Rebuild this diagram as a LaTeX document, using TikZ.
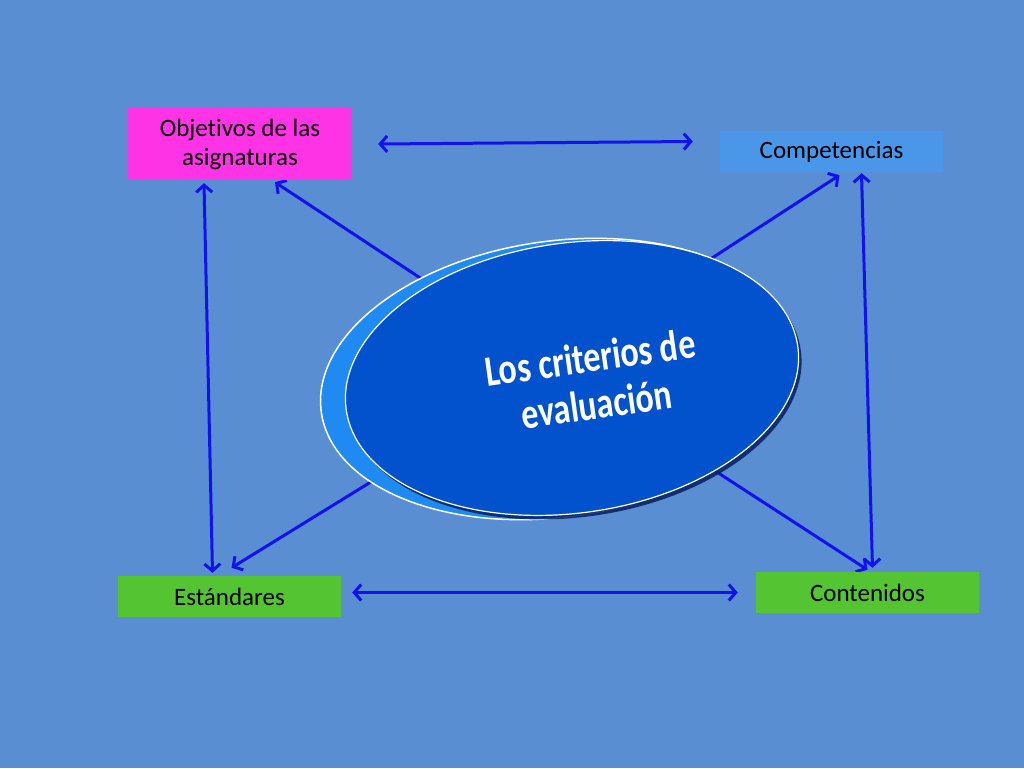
\documentclass[tikz,border=0pt]{standalone}
\usepackage{fontspec}
\setmainfont{Carlito}[Ligatures=NoCommon]
\usetikzlibrary{arrows.meta,shapes.geometric,backgrounds,shadows}
\definecolor{slideblue}{RGB}{89,142,211}
\definecolor{linkblue}{RGB}{18,18,236}
\definecolor{objmagenta}{RGB}{255,51,230}
\definecolor{compblue}{RGB}{74,150,232}
\definecolor{stdgreen}{RGB}{84,196,50}
\definecolor{critdark}{RGB}{2,82,206}
\definecolor{critlight}{RGB}{30,138,242}
\definecolor{critshadow}{RGB}{10,36,100}

\begin{document}
\begin{tikzpicture}[x=1pt,y=-1pt,
    box/.style={shape=rectangle,inner sep=0pt,minimum width=223pt,minimum height=41pt,
      font=\fontsize{25}{29}\selectfont,text=black,align=center},
    link/.style={draw=linkblue,line width=3pt},
    >={Straight Barb[length=7pt,width=16pt]}]
  \useasboundingbox (0,0) rectangle (1024,768);
  \begin{scope}[on background layer]
    \fill[slideblue] (0,0) rectangle (1024,768);
  \end{scope}
  \node[box,fill=objmagenta,minimum width=224pt,minimum height=72pt] (obj) at (240,144) {Objetivos de las\\asignaturas};
  \node[box,fill=compblue] (comp) at (831.5,151.5) {Competencias};
  \node[box,fill=stdgreen] (est) at (229.5,596.5) {Estándares};
  \node[box,fill=stdgreen] (cont) at (867.5,592.5) {Contenidos};
  \node[shape=ellipse,inner sep=0pt,fill=critlight,draw=white,line width=1.5pt,
    minimum width=478pt,minimum height=276pt,rotate=8] (critback) at (558,379) {};
  \node[shape=ellipse,inner sep=0pt,fill=critdark,draw=white,line width=1.2pt,
    minimum width=456pt,minimum height=270pt,rotate=8,
    drop shadow={shadow xshift=3pt,shadow yshift=-4pt,fill=critshadow,opacity=0.9}] (crit) at (572,378) {};
  \node[rotate=8,text=white,font=\bfseries\fontsize{34}{37}\selectfont] (critlabel) at (594,386)
    {\scalebox{1}[1.27]{\begin{tabular}{@{}c@{}}Los criterios de\\evaluación\end{tabular}}};
  \begin{scope}[on background layer]
    \draw[link,<->] ([xshift=26pt]obj.east) -- ([xshift=-27pt,yshift=10pt]comp.west);
    \draw[link,<->] ([xshift=11pt,yshift=4pt]est.east) -- ([xshift=-18pt]cont.west);
    \draw[link,<->] ([xshift=-36pt,yshift=-3pt]obj.south) -- ([xshift=-17pt,yshift=3pt]est.north);
    \draw[link,<->] ([xshift=30pt,yshift=-1pt]comp.south) -- ([xshift=5pt,yshift=4pt]cont.north);
    \draw[link,->] (crit.center) -- ([xshift=35pt,yshift=-2pt]obj.south);
    \draw[link,->] ([yshift=29pt]crit.center) -- ([xshift=8pt,yshift=-3pt]comp.south);
    \draw[link,->] ([yshift=20pt]crit.center) -- ([xshift=2pt,yshift=8pt]est.north);
    \draw[link,->] (crit.center) -- ([yshift=2pt]cont.north);
  \end{scope}
\end{tikzpicture}
\end{document}
